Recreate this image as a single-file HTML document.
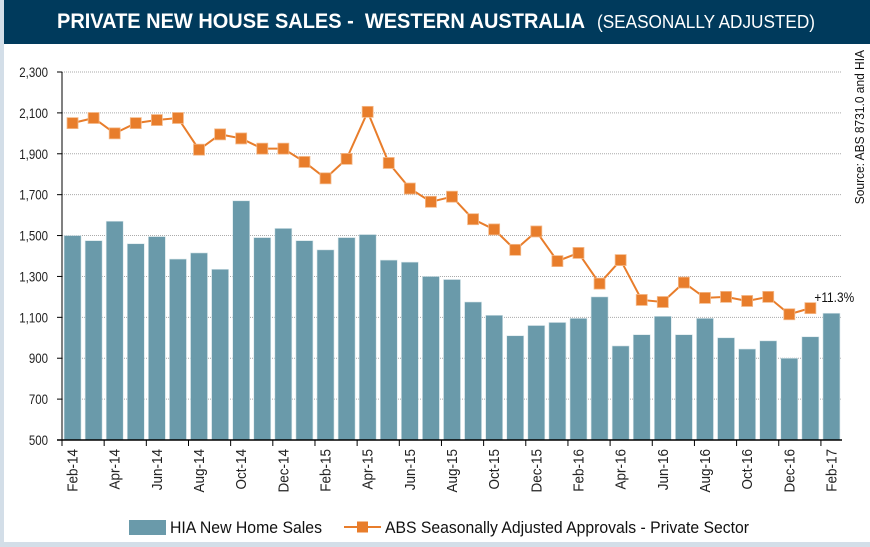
<!DOCTYPE html>
<html><head><meta charset="utf-8"><style>
html,body{margin:0;padding:0;}
body{width:870px;height:547px;background:#d3dee8;position:relative;overflow:hidden;font-family:"Liberation Sans",sans-serif;}
#panel{position:absolute;left:4px;top:0;width:866px;height:542px;background:#fff;}
#titlebar{position:absolute;left:4px;top:0;width:866px;height:44px;background:#003a5c;}
svg{position:absolute;left:0;top:0;}
</style></head><body>
<div id="panel"></div>
<div id="titlebar"></div>
<svg id="chart" width="870" height="547">
<text x="57" y="28" font-size="21" font-weight="bold" fill="#fff" textLength="528" lengthAdjust="spacingAndGlyphs">PRIVATE NEW HOUSE SALES -&#160; WESTERN AUSTRALIA</text>
<text x="597" y="28" font-size="18" fill="#fff" textLength="218" lengthAdjust="spacingAndGlyphs">(SEASONALLY ADJUSTED)</text>
</svg>
<script>
const months = ["Feb-14","Mar-14","Apr-14","May-14","Jun-14","Jul-14","Aug-14","Sep-14","Oct-14","Nov-14","Dec-14","Jan-15","Feb-15","Mar-15","Apr-15","May-15","Jun-15","Jul-15","Aug-15","Sep-15","Oct-15","Nov-15","Dec-15","Jan-16","Feb-16","Mar-16","Apr-16","May-16","Jun-16","Jul-16","Aug-16","Sep-16","Oct-16","Nov-16","Dec-16","Jan-17","Feb-17"];
const hiaSales = [1500,1475,1570,1460,1495,1385,1415,1335,1670,1490,1535,1475,1430,1490,1505,1380,1370,1300,1285,1175,1110,1010,1060,1075,1095,1200,960,1015,1105,1015,1095,1000,945,985,900,1005,1120];
const absApprovals = [2050,2075,2000,2050,2065,2075,1920,1995,1975,1925,1925,1860,1780,1875,2105,1855,1730,1665,1690,1580,1530,1430,1520,1375,1415,1265,1380,1185,1175,1270,1195,1200,1180,1200,1115,1145];
const yTicks = [500,700,900,1100,1300,1500,1700,1900,2100,2300];
const yTickLabels = ["500","700","900","1,100","1,300","1,500","1,700","1,900","2,100","2,300"];
const annotation = "+11.3%";

const svg = document.getElementById('chart');
const NS = 'http://www.w3.org/2000/svg';
const X0 = 62, X1 = 842, Y0 = 440, Y1 = 72, VMIN = 500, VMAX = 2300;
const step = (X1 - X0) / months.length;
const xC = i => X0 + step * (i + 0.5);
const yS = v => Y0 - (v - VMIN) / (VMAX - VMIN) * (Y0 - Y1);
function mk(tag, attrs, parent) {
  const e = document.createElementNS(NS, tag);
  for (const k in attrs) e.setAttribute(k, attrs[k]);
  (parent || svg).appendChild(e);
  return e;
}
yTicks.forEach((v, i) => {
  const g = mk('line', {x1: X0, x2: X1, y1: yS(v), y2: yS(v), stroke: '#aaa', 'stroke-width': 1, 'stroke-dasharray': '1,1'});
  
  
  const t = mk('text', {x: 0, y: 0, 'text-anchor': 'end', 'font-size': 14, fill: '#222', transform: `translate(48,${yS(v) + 5}) scale(0.82,1)`});
  t.textContent = yTickLabels[i];
  
  
  const tk = mk('line', {x1: X0 - 5, x2: X0, y1: yS(v), y2: yS(v), stroke: '#000'});
  
  
});
hiaSales.forEach((v, i) => {
  const b = mk('rect', {x: xC(i) - 8.5, y: yS(v), width: 17, height: Y0 - yS(v), fill: '#6a9aaa', stroke: '#d8e6ea', 'stroke-width': 0.6});
  
  
});
const ya = mk('line', {x1: X0, x2: X0, y1: Y1, y2: Y0, stroke: '#000', 'stroke-width': 1});


const xa = mk('line', {x1: X0 - 5, x2: X1, y1: Y0, y2: Y0, stroke: '#000', 'stroke-width': 1.5});


months.forEach((m, i) => {
  if (i % 2) return;
  const tk = mk('line', {x1: X0 + step * i, x2: X0 + step * i, y1: Y0, y2: Y0 + 6, stroke: '#000'});
  
  
  const t = mk('text', {x: 0, y: 0, 'text-anchor': 'end', 'font-size': 15, fill: '#222', transform: `translate(${xC(i) + 5},${Y0 + 9}) rotate(-90) scale(0.9,1)`});
  t.textContent = m;
  
  
});
const pts = absApprovals.map((v, i) => xC(i) + ',' + yS(v)).join(' ');
const pl = mk('polyline', {points: pts, fill: 'none', stroke: '#e87d2b', 'stroke-width': 2});


absApprovals.forEach((v, i) => {
  const r = mk('rect', {x: xC(i) - 5.5, y: yS(v) - 5.5, width: 11, height: 11, fill: '#e87d2b', stroke: '#f4b98a', 'stroke-width': 0.8});
  
  
});
const last = absApprovals.length - 1;
const an = mk('text', {x: 0, y: 0, 'font-size': 14, fill: '#111', transform: `translate(${xC(last) + 4},${yS(absApprovals[last]) - 6}) scale(0.85,1)`});
an.textContent = annotation;


const src = mk('text', {x: 0, y: 0, 'text-anchor': 'end', 'font-size': 13, fill: '#111', transform: 'translate(864,50) rotate(-90) scale(0.92,1)'});
src.textContent = 'Source: ABS 8731.0 and HIA';


const lg = mk('g', {});


const l1 = mk('rect', {x: 129, y: 520, width: 37, height: 15, fill: '#6a9aaa'}, lg);


const t1 = mk('text', {x: 170, y: 533, 'font-size': 17, fill: '#111', textLength: 152, lengthAdjust: 'spacingAndGlyphs'}, lg);
t1.textContent = 'HIA New Home Sales';


const l2 = mk('line', {x1: 344, x2: 381, y1: 527, y2: 527, stroke: '#e87d2b', 'stroke-width': 2}, lg);


const l3 = mk('rect', {x: 357, y: 521.5, width: 11, height: 11, fill: '#e87d2b'}, lg);


const t2 = mk('text', {x: 385, y: 533, 'font-size': 17, fill: '#111', textLength: 364, lengthAdjust: 'spacingAndGlyphs'}, lg);
t2.textContent = 'ABS Seasonally Adjusted Approvals - Private Sector';


</script>
</body></html>
